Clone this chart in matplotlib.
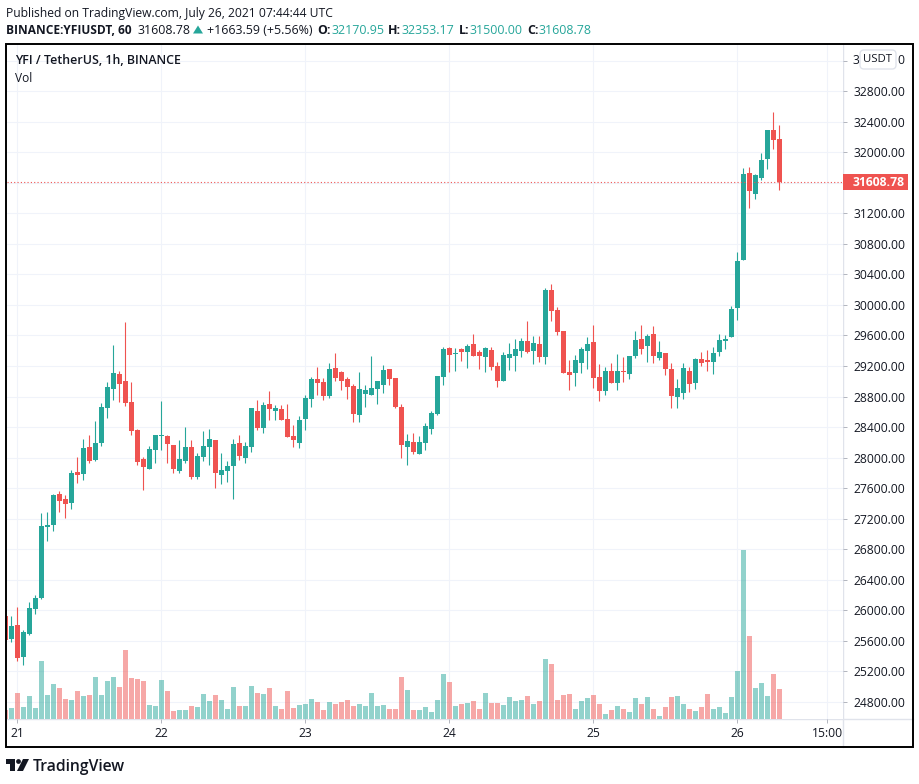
#!/usr/bin/env python3
"""YFI / TetherUS hourly candles with volume, TradingView look."""

import matplotlib
matplotlib.use("Agg")
import matplotlib.pyplot as plt
from matplotlib.lines import Line2D
from matplotlib.patches import Circle, FancyBboxPatch, Polygon, Rectangle
from matplotlib.transforms import blended_transform_factory

plt.rcParams["font.family"] = ["Open Sans", "DejaVu Sans"]

GREEN = "#26a69a"
RED = "#ef5350"
INK = "#131722"
GRID = "#f0f3fa"
SEP = "#e0e3eb"

# hours counted from Jul 21 00:00
HOURS = list(range(-2, 128))

OPEN = [25930, 25628, 25811, 25392, 25693, 26020, 26164, 27093, 27119, 27524,
        27459, 27407, 27812, 27786, 28139, 27969, 28191, 28649, 28898, 29094,
        29002, 28728, 28361, 27982, 27851, 28100, 28283, 28283, 28165, 27825,
        27956, 28139, 27747, 28008, 28139, 28231, 27773, 27825, 27891, 28191,
        27995, 28139, 28610, 28388, 28701, 28615, 28641, 28510, 28287, 28195,
        28510, 28772, 29034, 28995, 28811, 29178, 29126, 29034, 28942, 28562,
        28837, 28824, 28903, 28955, 29165, 29047, 28667, 28143, 28208, 28051,
        28195, 28379, 28575, 29060, 29440, 29362, 29427, 29388, 29493, 29388,
        29323, 29414, 29205, 29008, 29309, 29336, 29401, 29532, 29395, 29487,
        29316, 30195, 29933, 29657, 29120, 29107, 29238, 29395, 29513, 29054,
        28871, 29133, 28976, 29133, 29094, 29330, 29552, 29461, 29618, 29303,
        29369, 29159, 28792, 28844, 29133, 28976, 29290, 29277, 29251, 29382,
        29526, 29579, 29957, 30586, 31727, 31452, 31661, 31911, 32291, 32170.95]
HIGH = [25930, 25929, 26046, 25745, 26112, 26203, 27276, 27289, 27524, 27564,
        27511, 27838, 28008, 28244, 28296, 28479, 28715, 28989, 29473, 29133,
        29774, 28989, 28374, 28008, 28152, 28296, 28741, 28296, 28165, 28231,
        28401, 28231, 28061, 28348, 28374, 28231, 28061, 27956, 28244, 28296,
        28204, 28649, 28754, 28728, 28872, 28693, 28693, 28706, 28431, 28549,
        28824, 29060, 29191, 29047, 29244, 29375, 29139, 29060, 28969, 29126,
        28955, 29336, 29008, 29218, 29165, 29047, 28706, 28313, 28326, 28287,
        28457, 28615, 29073, 29454, 29454, 29440, 29440, 29493, 29624, 29414,
        29454, 29454, 29257, 29388, 29506, 29559, 29572, 29795, 29592, 29592,
        30221, 30273, 29972, 29657, 29277, 29343, 29448, 29579, 29736, 29225,
        29185, 29238, 29356, 29316, 29330, 29657, 29736, 29618, 29723, 29526,
        29369, 29238, 29028, 29238, 29185, 29303, 29382, 29408, 29448, 29618,
        29605, 29985, 30691, 31793, 31806, 31714, 31989, 32291, 32527, 32353.17]
LOW = [25600, 25588, 25340, 25288, 25680, 25955, 26151, 26910, 27040, 27289,
       27210, 27328, 27668, 27707, 27930, 27956, 28152, 28518, 28754, 28728,
       28675, 28296, 27904, 27577, 27851, 27930, 28100, 27930, 27799, 27799,
       27930, 27720, 27720, 27956, 27904, 27603, 27655, 27681, 27459, 27969,
       27930, 28074, 28361, 28322, 28492, 28497, 28497, 28274, 28143, 28130,
       28366, 28667, 28824, 28759, 28785, 29008, 28890, 28772, 28470, 28470,
       28667, 28824, 28706, 28851, 28955, 28654, 27998, 27907, 28051, 28051,
       28103, 28313, 28562, 28955, 29126, 29139, 29270, 29178, 29336, 29165,
       29126, 29152, 28929, 29008, 29152, 29139, 29323, 29375, 29225, 29251,
       29225, 29788, 29605, 29107, 28884, 28936, 29107, 29159, 28910, 28740,
       28818, 28976, 28884, 28989, 29028, 29303, 29356, 29251, 29238, 29277,
       29080, 28648, 28648, 28766, 28858, 28897, 29198, 29133, 29094, 29330,
       29421, 29579, 29800, 30586, 31268, 31386, 31635, 31779, 32042, 31500]
CLOSE = [25615, 25798, 25379, 25719, 26033, 26164, 27106, 27119, 27511, 27433,
         27393, 27799, 27773, 28126, 27956, 28191, 28662, 28924, 29107, 28963,
         28715, 28348, 27943, 27877, 28113, 28296, 28296, 28178, 27851, 27982,
         28139, 27747, 28021, 28152, 28244, 27799, 27838, 27891, 28178, 28021,
         28152, 28649, 28388, 28688, 28636, 28654, 28497, 28274, 28234, 28497,
         28785, 29034, 28982, 28811, 29165, 29047, 29008, 28929, 28575, 28903,
         28890, 28916, 29008, 29152, 29034, 28667, 28169, 28221, 28077, 28208,
         28418, 28588, 29073, 29427, 29349, 29375, 29388, 29467, 29336, 29336,
         29440, 29191, 29008, 29349, 29362, 29427, 29532, 29388, 29500, 29316,
         30195, 29920, 29644, 29107, 29080, 29277, 29421, 29487, 29041, 28871,
         29133, 28976, 29133, 29120, 29330, 29539, 29421, 29592, 29330, 29382,
         29159, 28805, 28910, 29172, 28962, 29290, 29238, 29251, 29369, 29539,
         29552, 29946, 30573, 31714, 31491, 31701, 31897, 32291, 32160, 31608.78]
VOLUME = [27, 33, 78, 36, 69, 33, 174, 72, 105, 93,
          60, 57, 84, 69, 72, 126, 72, 114, 126, 96,
          207, 123, 120, 114, 42, 39, 117, 84, 24, 27,
          27, 39, 36, 75, 54, 72, 57, 30, 96, 39,
          39, 99, 78, 75, 93, 39, 30, 84, 33, 42,
          45, 60, 51, 27, 51, 45, 51, 57, 39, 45,
          39, 78, 39, 42, 30, 30, 126, 87, 27, 27,
          36, 21, 57, 135, 111, 39, 45, 48, 54, 30,
          78, 48, 48, 42, 66, 54, 57, 69, 45, 54,
          180, 165, 57, 72, 75, 30, 54, 63, 72, 45,
          15, 27, 39, 30, 21, 63, 45, 66, 30, 9,
          36, 66, 69, 45, 30, 24, 36, 75, 30, 36,
          18, 66, 144, 507, 249, 93, 108, 69, 135, 90]

PRICE_TICKS = list(range(24800, 33600, 400))
# labels hidden behind the last price tag and the USDT box
HIDDEN_TICKS = [31600, 33200]
DAY_TICKS = [0, 24, 48, 72, 96, 120, 135]
DAY_LABELS = ["21", "22", "23", "24", "25", "26", "15:00"]
LAST_PRICE = 31608.78

W, H = 920, 784
fig = plt.figure(figsize=(W / 100, H / 100), dpi=100, facecolor="white")


def fx(x):
    return x / W


def fy(y):
    return 1 - y / H


L, R, T, B = 7, 843.3, 44, 719.3
ax = fig.add_axes([fx(L), fy(B), fx(R - L), (B - T) / H])
ax.set_xlim(-1.717, 137.67)
ax.set_ylim(24573, 33418)

# volume pane shares the bottom of the chart, its scale is hidden
ax_vol = ax.twinx()
ax_vol.set_ylim(0, (B - T) * 3)
ax_vol.axis("off")
ax.set_zorder(2)
ax_vol.set_zorder(3)
ax_vol.patch.set_visible(False)

colors = [GREEN if c >= o else RED for o, c in zip(OPEN, CLOSE)]
ax_vol.bar(HOURS, VOLUME, width=0.83, color=colors, alpha=0.5, linewidth=0)

ax.vlines(HOURS, LOW, HIGH, colors=colors, linewidth=0.8, zorder=4)
ax.bar(HOURS, [abs(c - o) for o, c in zip(OPEN, CLOSE)],
       bottom=[min(o, c) for o, c in zip(OPEN, CLOSE)],
       width=0.83, color=colors, linewidth=0, zorder=5)

ax.axhline(LAST_PRICE, color=RED, linewidth=0.8, linestyle=(0, (1, 2)), zorder=6)

ax.set_yticks(PRICE_TICKS)
ax.set_yticklabels(["" if p in HIDDEN_TICKS else f"{p:.2f}" for p in PRICE_TICKS])
ax.set_xticks(DAY_TICKS)
ax.set_xticklabels(DAY_LABELS)
ax.yaxis.tick_right()
ax.tick_params(axis="y", length=3, width=0.7, color="#b2b5be", pad=4,
               labelsize=8.7, labelcolor=INK)
ax.tick_params(axis="x", length=3, width=0.7, color="#b2b5be", pad=2.5,
               labelsize=8.7, labelcolor=INK)
ax.grid(True, color=GRID, linewidth=0.8)
ax.set_axisbelow(True)
for name, spine in ax.spines.items():
    spine.set_visible(False)

# price axis separator and time axis separator run to the frame
fig.add_artist(Line2D([fx(R), fx(R)], [fy(T), fy(747)], color=SEP, linewidth=1))
fig.add_artist(Line2D([fx(L), fx(913)], [fy(B), fy(B)], color=SEP, linewidth=1))
fig.add_artist(Rectangle((fx(6.5), fy(747)), fx(906.5), 703 / H, fill=False,
                         edgecolor="black", linewidth=1.4, zorder=20))

# last price tag
trans = blended_transform_factory(ax.transAxes, ax.transData)
ax.add_patch(Rectangle((1.0, LAST_PRICE - 105), 65 / (R - L), 215, transform=trans,
                       facecolor=RED, edgecolor="none", clip_on=False, zorder=7))
ax.annotate(f"{LAST_PRICE:.2f}", xy=(1.0, LAST_PRICE), xycoords=trans,
            xytext=(7, 0), textcoords="offset points", ha="left", va="center",
            color="white", fontsize=8.7, fontweight="bold", zorder=8)

# USDT box over the top tick, only the ends of its label stick out
fig.text(fx(853), fy(60), "3", fontsize=8.7, color=INK, va="center")
fig.text(fx(897), fy(60), "0", fontsize=8.7, color=INK, va="center")
fig.add_artist(FancyBboxPatch((862, H - 67), 32, 15, boxstyle="round,pad=2,rounding_size=4",
                              transform=None, facecolor="white", edgecolor=SEP,
                              linewidth=1, zorder=10))
fig.text(fx(878), fy(60), "USDT", ha="center", va="center", fontsize=8.2,
         color=INK, zorder=11)

# pane legend
fig.text(fx(15), fy(60.5), "YFI / TetherUS, 1h, BINANCE", fontsize=8.95,
         fontweight="semibold", color=INK, va="center")
fig.text(fx(15), fy(78), "Vol", fontsize=8.6, color=INK, va="center")

# header lines
fig.text(fx(6.5), fy(14), "Published on TradingView.com, July 26, 2021 07:44:44 UTC",
         fontsize=8.7, color=INK, va="center")
fig.text(fx(6.5), fy(31), "BINANCE:YFIUSDT, 60", fontsize=8.6, fontweight="bold",
         color=INK, va="center")
fig.text(fx(138), fy(31), "31608.78", fontsize=8.9, color=INK, va="center")
fig.add_artist(Polygon([[fx(193), fy(33.5)], [fx(203), fy(33.5)], [fx(198), fy(25.5)]],
                       closed=True, facecolor=GREEN, edgecolor="none"))
fig.text(fx(207), fy(31), "+1663.59 (+5.56%)", fontsize=8.9, color=INK, va="center")
x_pos = [317.3, 331.7, 388, 402, 459, 470, 527, 539]
parts = ["O:", "32170.95", "H:", "32353.17", "L:", "31500.00", "C:", "31608.78"]
for px, part, col, wt in zip(x_pos, parts, [INK, GREEN] * 4, ["bold", "normal"] * 4):
    fig.text(fx(px), fy(31), part, fontsize=8.9, color=col, fontweight=wt, va="center")

# logo
fig.add_artist(Polygon([[fx(6), fy(759)], [fx(15), fy(759)], [fx(15), fy(771)],
                        [fx(10), fy(771)], [fx(10), fy(764)], [fx(6), fy(764)]],
                       closed=True, facecolor=INK, edgecolor="none"))
fig.add_artist(Circle((18.5, H - 761.5), 2.4, transform=None, facecolor=INK,
                      edgecolor="none"))
fig.add_artist(Polygon([[fx(23), fy(759)], [fx(29), fy(759)], [fx(23), fy(771)],
                        [fx(17), fy(771)]],
                       closed=True, facecolor=INK, edgecolor="none"))
fig.text(fx(33), fy(767), "TradingView", fontsize=11.3, fontweight="semibold",
         color=INK, va="center")

fig.savefig("out.png", dpi=100, facecolor="white")
